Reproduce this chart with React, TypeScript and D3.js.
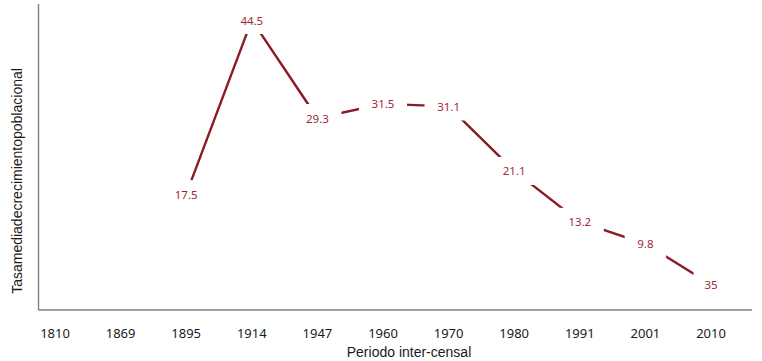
import { useMemo } from "react";
import * as d3 from "d3";

// intercensal periods (x categories)
const periods = ["1810", "1869", "1895", "1914", "1947", "1960", "1970", "1980", "1991", "2001", "2010"];
// mean growth rate per period (null = no data)
const rates: (number | null)[] = [null, null, 17.5, 44.5, 29.3, 31.5, 31.1, 21.1, 13.2, 9.8, 3.5];
// data labels as printed on the original
const rateLabels = ["", "", "17.5", "44.5", "29.3", "31.5", "31.1", "21.1", "13.2", "9.8", "35"];

const width = 762;
const height = 361;

export default function App() {
  const axisX = 38.5;
  const axisY = 310;

  const xScale = useMemo(
    () => d3.scalePoint<string>().domain(periods).range([55, 711]),
    []
  );
  const yScale = useMemo(
    () => d3.scaleLinear().domain([0, 44.5]).range([307, 20]),
    []
  );

  const pts = periods
    .map((p, i) => ({ p, v: rates[i], label: rateLabels[i] }))
    .filter((d) => d.v !== null) as { p: string; v: number; label: string }[];

  const line = d3
    .line<{ p: string; v: number }>()
    .x((d) => xScale(d.p)!)
    .y((d) => yScale(d.v));

  return (
    <svg width={width} height={height} style={{ position: "absolute", left: 0, top: 0 }}>
      {/* axes */}
      <line x1={axisX} x2={axisX} y1={4} y2={axisY} stroke="#808080" strokeWidth={1.4} />
      <line x1={axisX} x2={752} y1={axisY} y2={axisY} stroke="#808080" strokeWidth={1.4} />

      {/* series line */}
      <path d={line(pts) ?? ""} fill="none" stroke="#8b1a22" strokeWidth={2.4} />

      {/* data labels with white boxes that hide the line */}
      {pts.map((d) => {
        const x = xScale(d.p)!;
        const y = yScale(d.v);
        const w = d.label.length * 6.5 + 22;
        return (
          <g key={d.p}>
            <rect x={x - w / 2} y={y - 14} width={w} height={28} fill="white" />
            <text
              x={x}
              y={y}
              textAnchor="middle"
              dominantBaseline="central"
              fontFamily="'Noto Sans', sans-serif"
              fontSize={11.5}
              fill="#9b2a36"
            >
              {d.label}
            </text>
          </g>
        );
      })}

      {/* x tick labels */}
      {periods.map((p) => (
        <text
          key={p}
          x={xScale(p)!}
          y={333}
          textAnchor="middle"
          dominantBaseline="central"
          fontFamily="'Noto Sans', sans-serif"
          fontSize={13}
          fill="#1a1a1a"
        >
          {p}
        </text>
      ))}

      <text
        x={409}
        y={352}
        textAnchor="middle"
        dominantBaseline="central"
        fontFamily="'Liberation Sans', Arial, sans-serif"
        fontSize={14}
        fill="#1a1a1a"
      >
        Periodo inter-censal
      </text>
      <text
        transform="translate(17,181) rotate(-90)"
        textAnchor="middle"
        dominantBaseline="central"
        fontFamily="'Liberation Sans', Arial, sans-serif"
        fontSize={14}
        fill="#1a1a1a"
      >
        Tasamediadecrecimientopoblacional
      </text>
    </svg>
  );
}
